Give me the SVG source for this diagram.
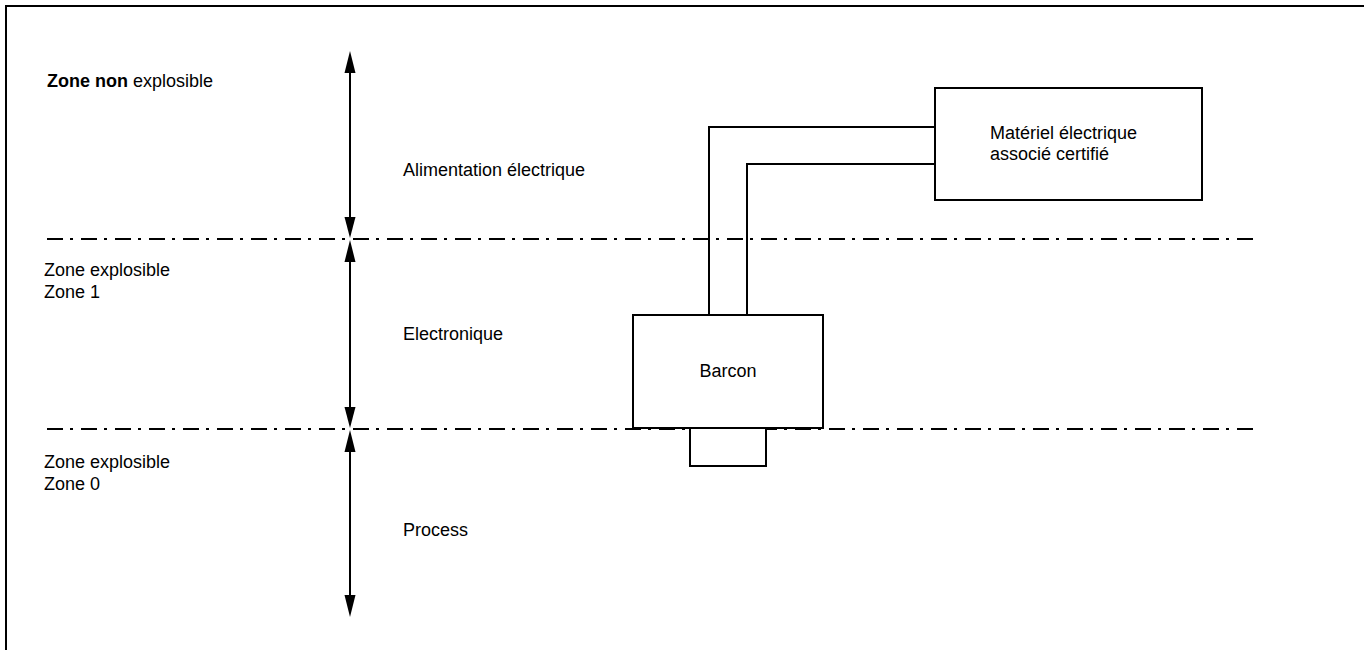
<svg xmlns="http://www.w3.org/2000/svg" width="1364" height="650" viewBox="0 0 1364 650">
<style>
text { font-family: "Liberation Sans", Arial, sans-serif; font-size: 18px; fill: #000; }
.b { font-weight: bold; }
.box { fill: #fff; stroke: #000; stroke-width: 2; }
.wire { fill: none; stroke: #000; stroke-width: 2; }
.dd { fill: none; stroke: #000; stroke-width: 2; stroke-dasharray: 16 7 3 8; }
.shaft { stroke: #000; stroke-width: 2; }
.head { fill: #000; }
</style>
<rect width="1364" height="650" fill="#fff"/>
<path d="M6,650 V6 H1364" fill="none" stroke="#000" stroke-width="2"/>

<g id="zone-lines">
<line class="dd" x1="47" y1="239" x2="1253" y2="239"/>
<line class="dd" x1="47" y1="429" x2="1253" y2="429"/>
</g>

<g id="labels">
<text x="47" y="87"><tspan class="b">Zone non</tspan> explosible</text>
<text x="44" y="276">Zone explosible</text>
<text x="44" y="298">Zone 1</text>
<text x="44" y="468">Zone explosible</text>
<text x="44" y="490">Zone 0</text>
<text x="403" y="176">Alimentation électrique</text>
<text x="403" y="340">Electronique</text>
<text x="403" y="536">Process</text>
</g>

<g id="arrows">
<line class="shaft" x1="350" y1="70" x2="350" y2="220"/>
<polygon class="head" points="350,51 344.5,73 355.5,73"/>
<polygon class="head" points="350,238 344.5,217 355.5,217"/>
<line class="shaft" x1="350" y1="259" x2="350" y2="410"/>
<polygon class="head" points="350,240 344.5,262 355.5,262"/>
<polygon class="head" points="350,428 344.5,407 355.5,407"/>
<line class="shaft" x1="350" y1="449" x2="350" y2="598"/>
<polygon class="head" points="350,430 344.5,452 355.5,452"/>
<polygon class="head" points="350,617 344.5,595 355.5,595"/>
</g>

<g id="connectors">
<polyline class="wire" points="709,315 709,127 935,127"/>
<polyline class="wire" points="747,315 747,164 935,164"/>
</g>

<g id="materiel">
<rect class="box" x="935" y="88" width="267" height="112"/>
<text x="990" y="139">Matériel électrique</text>
<text x="990" y="160">associé certifié</text>
</g>

<g id="barcon">
<rect class="box" x="690" y="428" width="76" height="38"/>
<rect class="box" x="633" y="315" width="190" height="113"/>
<text x="728" y="377" text-anchor="middle">Barcon</text>
</g>
</svg>
